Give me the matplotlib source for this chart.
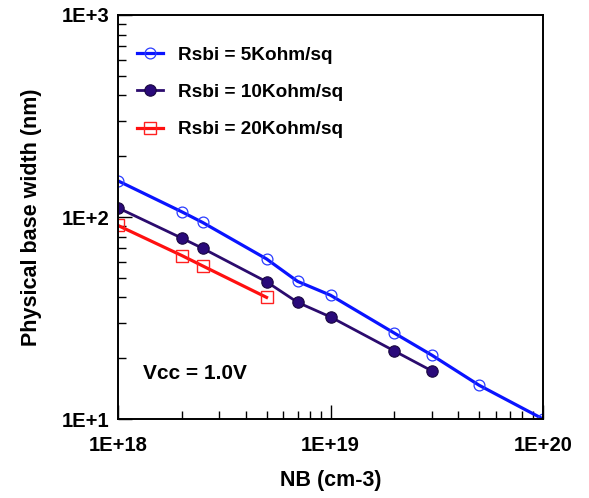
import matplotlib
matplotlib.use('Agg')
import matplotlib.pyplot as plt
import numpy as np
from matplotlib.ticker import LogLocator, FuncFormatter, NullFormatter

plt.rcParams['font.family'] = ['Liberation Sans', 'DejaVu Sans']
plt.rcParams['font.weight'] = 'bold'

# doping (cm-3) and base width (nm)
nb_5k = [1e18, 2e18, 2.5e18, 5e18, 7e18, 1e19, 2e19, 3e19, 5e19, 1e20]
wb_5k = [151, 106, 94, 62, 48, 41, 26.6, 20.7, 14.7, 10]
nb_10k = [1e18, 2e18, 2.5e18, 5e18, 7e18, 1e19, 2e19, 3e19]
wb_10k = [111, 78.5, 70, 47.8, 37.8, 32, 21.7, 17.3]
nb_20k = [1e18, 2e18, 2.5e18, 5e18]
wb_20k = [90.8, 64.4, 57.3, 40]

labels = ['Rsbi = 5Kohm/sq', 'Rsbi = 10Kohm/sq', 'Rsbi = 20Kohm/sq']

fig = plt.figure(figsize=(5.89, 4.98), dpi=100)
ax = fig.add_axes([118/589, 1-419/498, (543-118)/589, (419-15)/498])

ax.plot(nb_5k, wb_5k, color='#0a14ff', lw=2.3, marker='o', ms=7.8,
        mfc='none', mec='#2a3cff', mew=0.9, label=labels[0])
ax.plot(nb_10k, wb_10k, color='#2b0b6e', lw=2.0, marker='o', ms=8.2,
        mfc='#2a0a7a', mec='#1a0840', mew=0.8, label=labels[1])
ax.plot(nb_20k, wb_20k, color='#ff1010', lw=2.3, marker='s', ms=8.5,
        mfc='none', mec='#ff2020', mew=1.0, label=labels[2])

ax.set_xscale('log')
ax.set_yscale('log')
ax.set_xlim(1e18, 1e20)
ax.set_ylim(10, 1000)

fmt = FuncFormatter(lambda v, p: '1E+%d' % round(np.log10(v)))
for axis in (ax.xaxis, ax.yaxis):
    axis.set_major_locator(LogLocator(base=10))
    axis.set_minor_locator(LogLocator(base=10, subs=np.arange(2, 10)))
    axis.set_major_formatter(fmt)
    axis.set_minor_formatter(NullFormatter())

ax.tick_params(which='both', direction='in', top=False, right=False,
               width=1.0, labelsize=14.5)
ax.tick_params(which='major', length=10)
ax.tick_params(which='minor', length=6)
ax.tick_params(axis='x', which='major', pad=12)
ax.tick_params(axis='y', which='major', pad=6)
for s in ax.spines.values():
    s.set_linewidth(1.4)

ax.set_xlabel('NB (cm-3)', fontsize=15.5, fontweight='bold', labelpad=11)
ax.set_ylabel('Physical base width (nm)', fontsize=15.5, fontweight='bold', labelpad=14)

ax.text(143/589, 1-379/498, 'Vcc = 1.0V', transform=fig.transFigure,
        fontsize=15, fontweight='bold', va='baseline')

leg = ax.legend(loc='upper left', bbox_to_anchor=(0.005, 0.965), frameon=False,
                fontsize=13.7, handlelength=1.33, handletextpad=0.8,
                labelspacing=1.05)

fig.savefig('out.png', dpi=100)
